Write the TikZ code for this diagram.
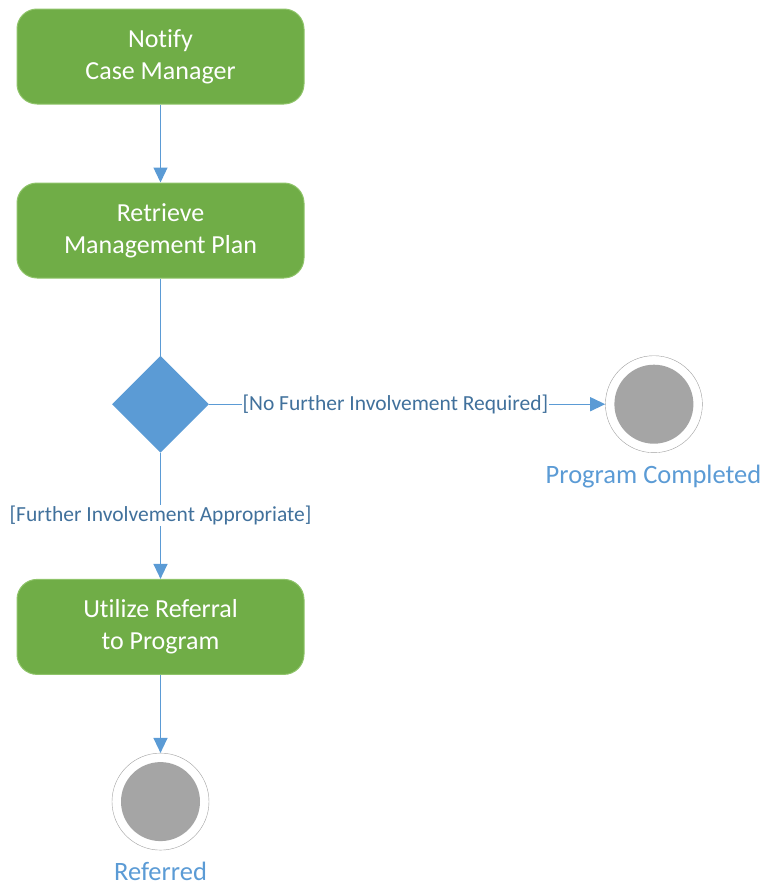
\documentclass[tikz,border=0pt]{standalone}
\usepackage{fontspec}
\setmainfont[Ligatures={NoCommon,NoRare}]{Carlito}
\usetikzlibrary{positioning,arrows.meta,shapes.geometric}
\definecolor{actgreen}{RGB}{112,173,71}
\definecolor{actedge}{RGB}{143,196,106}
\definecolor{flowblue}{RGB}{91,155,213}
\definecolor{guardblue}{RGB}{65,113,156}
\definecolor{endgrey}{RGB}{165,165,165}
\definecolor{ringgrey}{RGB}{160,160,160}

\begin{document}
\begin{tikzpicture}[
  x=1pt, y=-1pt,
  act/.style={draw=actedge, fill=actgreen, rounded corners=20pt, line width=1pt,
    minimum width=287pt, minimum height=95pt, align=center, text=white,
    font=\fontsize{26}{32}\selectfont},
  decision/.style={diamond, fill=flowblue, inner sep=0pt,
    minimum width=97pt, minimum height=97pt},
  final/.style={circle, draw=ringgrey, fill=white, thin, minimum size=97pt,
    inner sep=0pt, path picture={\fill[endgrey]
      (path picture bounding box.center) circle (39.5pt);}},
  endlbl/.style={text=flowblue, font=\fontsize{26.5}{30}\selectfont},
  guard/.style={text=guardblue, fill=white, inner sep=1pt,
    font=\fontsize{21.5}{24}\selectfont},
  flow/.style={draw=flowblue, line width=1.3pt,
    -{Triangle[length=15pt, width=14pt]}},
  plain/.style={draw=flowblue, line width=1.3pt},
]
\useasboundingbox (0,0) rectangle (764,886);

% ---- main column ----
\node[act] (notify) at (160.5,56.5) {Notify\\Case Manager};
\node[act, below=78pt of notify] (retrieve) {Retrieve\\Management Plan};
\node[decision, below=77pt of retrieve] (decide) {};
\node[act, below=126pt of decide] (utilize) {Utilize Referral\\to Program};
\node[final, below=78pt of utilize] (referred) {};
\node[endlbl] (referredlbl) at (160.5,871) {Referred};

% ---- right branch ----
\node[final, right=396pt of decide] (done) {};
\node[endlbl] (donelbl) at (653.5,477) {Program Completed};

% ---- arrows ----
\draw[flow] (notify) -- (retrieve);
\draw[plain] (retrieve) -- (decide);
\draw[flow] (decide) -- node[guard, pos=0.47]
  {[No Further Involvement Required]} (done);
\draw[flow] (decide) -- node[guard, pos=0.5]
  {[Further Involvement Appropriate]} (utilize);
\draw[flow] (utilize) -- (referred);

\end{tikzpicture}
\end{document}
